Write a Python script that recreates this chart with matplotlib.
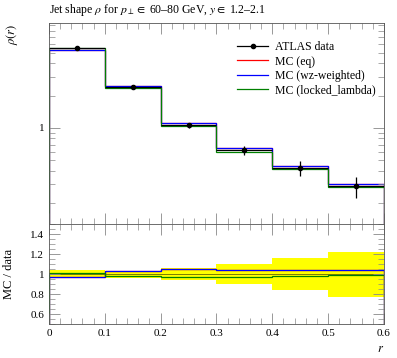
import numpy as np
import matplotlib
matplotlib.use("Agg")
import matplotlib.pyplot as plt
from matplotlib.lines import Line2D
from matplotlib.ticker import MultipleLocator, LogLocator, NullFormatter, FixedLocator

plt.rcParams['font.family'] = ['Liberation Serif', 'DejaVu Serif']
plt.rcParams['mathtext.fontset'] = 'stix'

# Bin edges in r and measured jet shape
edges = np.array([0.0, 0.1, 0.2, 0.3, 0.4, 0.5, 0.6])
data = np.array([5.5, 2.4, 1.06, 0.62, 0.426, 0.288])
data_relerr = np.array([0.04, 0.035, 0.06, 0.10, 0.16, 0.225])

# MC / data ratios
ratio_eq = np.array([0.97, 1.03, 1.05, 1.04, 1.037, 1.04])
ratio_wz = np.array([0.97, 1.03, 1.055, 1.045, 1.043, 1.043])
ratio_locked = np.array([1.015, 0.98, 0.975, 0.975, 0.98, 0.993])

mc_eq = data * ratio_eq
mc_wz = data * ratio_wz
mc_locked = data * ratio_locked

centers = 0.5 * (edges[:-1] + edges[1:])
halfw = 0.5 * np.diff(edges)

fig = plt.figure(figsize=(3.97, 3.58), dpi=100)
ax = fig.add_axes([0.1234, 0.374, 0.8436, 0.562])
rax = fig.add_axes([0.1234, 0.095, 0.8436, 0.279], sharex=ax)

# main panel
ax.stairs(mc_eq, edges, color='red', lw=0.9)
ax.stairs(mc_wz, edges, color='blue', lw=0.9)
ax.stairs(mc_locked, edges, color='green', lw=0.9)
ax.errorbar(centers, data, xerr=halfw, yerr=data * data_relerr, fmt='o', color='black',
            ms=3, lw=0.9, capsize=0)

ax.set_yscale('log')
ax.set_xlim(0, 0.6)
ax.set_ylim(0.128, 9.45)
ax.yaxis.set_major_locator(FixedLocator([1]))
ax.set_yticklabels(['1'])
ax.yaxis.set_minor_locator(LogLocator(base=10, subs=np.arange(2, 10)))
ax.yaxis.set_minor_formatter(NullFormatter())
ax.xaxis.set_major_locator(MultipleLocator(0.1))
ax.xaxis.set_minor_locator(MultipleLocator(0.02))
ax.tick_params(labelbottom=False)
ax.text(-0.11, 0.995, r'$\rho(r)$', transform=ax.transAxes, rotation=90,
        ha='center', va='top', fontsize=9)
ax.set_title(r'Jet shape $\rho$ for $p_\perp \in$ 60–80 GeV, $y \in$ 1.2–2.1',
             fontsize=8.5, loc='left', pad=7)

handles = [
    Line2D([], [], color='black', marker='o', ms=3, lw=0.9),
    Line2D([], [], color='red', lw=0.9),
    Line2D([], [], color='blue', lw=0.9),
    Line2D([], [], color='green', lw=0.9),
]
labels = ['ATLAS data', 'MC (eq)', 'MC (wz-weighted)', 'MC (locked_lambda)']
ax.legend(handles, labels, loc='upper right', bbox_to_anchor=(1.0, 0.95),
          frameon=False, fontsize=8.5, handlelength=2.6, handletextpad=0.6,
          labelspacing=0.2, borderaxespad=0.3)

# ratio panel
lo = 1 - data_relerr
hi = 1 + data_relerr
rax.fill_between(edges, np.append(lo, lo[-1]), np.append(hi, hi[-1]), step='post',
                 color='yellow', lw=0)
rax.stairs(np.ones(len(data)), edges, color='black', lw=0.6, alpha=0.6)
rax.stairs(ratio_eq, edges, color='red', lw=0.9)
rax.stairs(ratio_wz, edges, color='blue', lw=0.9)
rax.stairs(ratio_locked, edges, color='green', lw=0.9)
rax.set_ylim(0.5, 1.5)
rax.yaxis.set_major_locator(FixedLocator([0.6, 0.8, 1.0, 1.2, 1.4]))
rax.set_yticklabels(['0.6', '0.8', '1', '1.2', '1.4'])
rax.yaxis.set_minor_locator(MultipleLocator(0.05))
rax.set_xticks(np.arange(0, 0.61, 0.1))
rax.set_xticklabels(['0', '0.1', '0.2', '0.3', '0.4', '0.5', '0.6'])
rax.set_ylabel('MC / data', fontsize=9)
rax.yaxis.set_label_coords(-0.1, 0.5)
rax.set_xlabel(r'$r$', fontsize=9, loc='right')

for a in (ax, rax):
    a.tick_params(which='both', direction='in', top=True, right=True,
                  color='#888888', labelsize=8)
    a.tick_params(which='major', length=8, width=0.6)
    a.tick_params(which='minor', length=4, width=0.5)
    for s in a.spines.values():
        s.set_linewidth(0.6)
        s.set_color('#555555')

fig.savefig('out.png', dpi=100)
